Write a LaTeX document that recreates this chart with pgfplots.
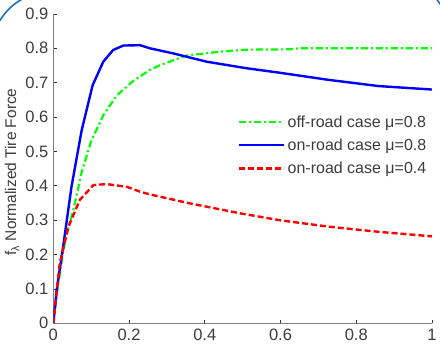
\documentclass[border=0pt]{standalone}
\usepackage{fontspec}
\setmainfont{Liberation Sans}
\usepackage{pgfplots}
\pgfplotsset{compat=1.18}
\definecolor{framecol}{RGB}{30,110,200}
\definecolor{txtcol}{RGB}{60,60,60}
\begin{document}
\begin{tikzpicture}[x=1pt,y=1pt]
\useasboundingbox (0,0) rectangle (440,346);
\draw[framecol, line width=1.6pt] (50,296) ++(149.5:58) arc[start angle=149.5, end angle=119, radius=58];
\draw[framecol, line width=1.6pt] (436.5,347) -- (440.5,341.5);
\begin{axis}[
  at={(53.3pt,22.7pt)}, anchor=south west,
  scale only axis, width=378.7pt, height=309.4pt,
  xmin=0, xmax=1, ymin=0, ymax=0.9,
  axis lines=left,
  axis line style={-, draw=gray, line width=0.8pt},
  tick align=inside, major tick length=3.5pt,
  tick style={draw=black!80, line width=0.6pt},
  xtick={0,0.2,0.4,0.6,0.8,1},
  ytick={0,0.1,0.2,0.3,0.4,0.5,0.6,0.7,0.8,0.9},
  xticklabels={0,0.2,0.4,0.6,0.8,1},
  yticklabels={0,0.1,0.2,0.3,0.4,0.5,0.6,0.7,0.8,0.9},
  ticklabel style={font=\fontsize{16.5}{18}\selectfont, text=txtcol},
  yticklabel style={xshift=-1.5pt},
  xticklabel style={yshift=-2pt},
  /pgf/number format/assume math mode=true,
  legend style={draw=none, fill=none, at={(rel axis cs:0.48,0.685)}, anchor=north west,
    font=\fontsize{16}{18}\selectfont, text=txtcol, row sep=6pt},
  legend cell align=left,
  legend image code/.code={\draw[#1] (0pt,0pt) -- (45pt,0pt);},
]
\addplot[color=green, line width=2.2pt, dash pattern=on 7pt off 3pt on 2pt off 3pt] coordinates {
(0,0) (0.01,0.09) (0.026,0.21) (0.04,0.28) (0.053,0.33) (0.075,0.44) (0.1,0.53)
(0.132,0.605) (0.167,0.662) (0.211,0.705) (0.255,0.737) (0.282,0.751) (0.352,0.779)
(0.44,0.79) (0.51,0.796) (0.625,0.797) (0.65,0.8) (1,0.8)};
\addlegendentry{off-road case μ=0.8}
\addplot[color=blue, line width=2.4pt] coordinates {
(0,0) (0.009,0.097) (0.026,0.223) (0.048,0.397) (0.075,0.562) (0.104,0.693)
(0.132,0.761) (0.158,0.795) (0.185,0.808) (0.229,0.809) (0.255,0.800) (0.317,0.785)
(0.405,0.761) (0.51,0.742) (0.597,0.729) (0.728,0.708) (0.86,0.69) (1.0,0.68)};
\addlegendentry{on-road case μ=0.8}
\addplot[color=red, line width=2.4pt, dash pattern=on 6pt off 3pt] coordinates {
(0,0) (0.017,0.175) (0.04,0.281) (0.07,0.359) (0.106,0.402) (0.141,0.405)
(0.194,0.397) (0.229,0.383) (0.255,0.375) (0.36,0.349) (0.493,0.32) (0.597,0.3)
(0.728,0.281) (0.86,0.266) (1,0.253)};
\addlegendentry{on-road case μ=0.4}
\end{axis}
\node[rotate=90, font=\fontsize{15.5}{17}\selectfont, text=txtcol] at (12,174) {f\textsubscript{λ} Normalized Tire Force};
\end{tikzpicture}
\end{document}
